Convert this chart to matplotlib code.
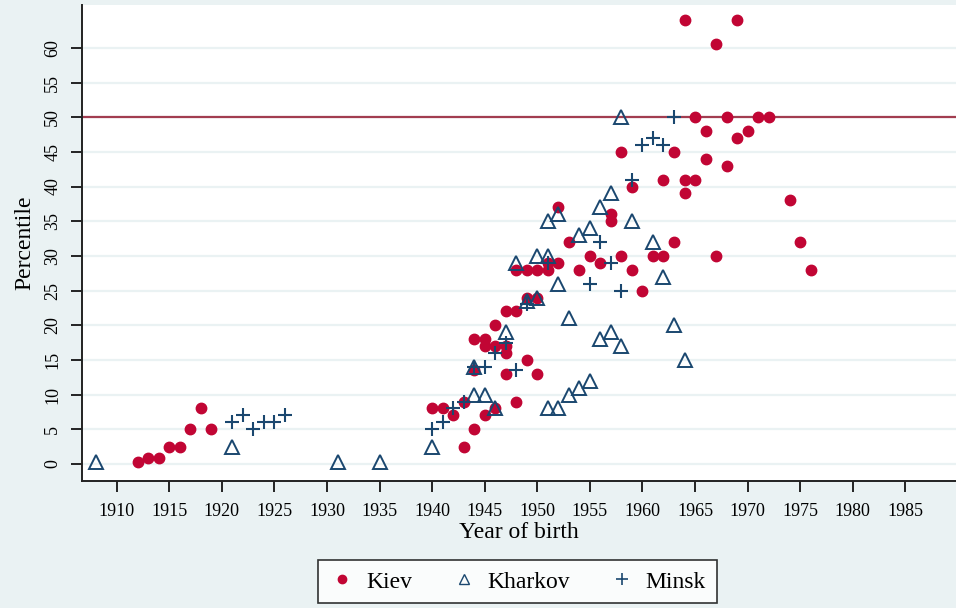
import matplotlib
matplotlib.use("Agg")
import matplotlib.pyplot as plt
from matplotlib.lines import Line2D

# data (year of birth, percentile)
kiev_year = [1912, 1913, 1914, 1915, 1916, 1917, 1918, 1919,
             1940, 1941, 1942, 1943, 1943, 1944, 1944, 1944, 1945, 1945, 1945,
             1946, 1946, 1946, 1947, 1947, 1947, 1947, 1948, 1948, 1948,
             1949, 1949, 1949, 1950, 1950, 1950, 1951, 1951, 1952, 1952,
             1953, 1954, 1955, 1956, 1957, 1957, 1958, 1958, 1959, 1959,
             1960, 1961, 1962, 1962, 1963, 1963, 1964, 1964, 1964, 1965, 1965,
             1966, 1966, 1967, 1967, 1968, 1968, 1969, 1969, 1970, 1971, 1972,
             1974, 1975, 1976]
kiev_pct = [0.3, 0.8, 0.8, 2.5, 2.5, 5, 8, 5,
            8, 8, 7, 2.5, 9, 5, 13.5, 18, 7, 17, 18,
            8, 17, 20, 13, 16, 17, 22, 9, 22, 28,
            15, 24, 28, 13, 24, 28, 28, 29, 29, 37,
            32, 28, 30, 29, 35, 36, 30, 45, 28, 40,
            25, 30, 30, 41, 32, 45, 39, 41, 64, 41, 50,
            44, 48, 30, 60.5, 43, 50, 47, 64, 48, 50, 50,
            38, 32, 28]

kharkov_year = [1908, 1921, 1931, 1935, 1940, 1944, 1944, 1945, 1946, 1947,
                1948, 1949, 1950, 1950, 1951, 1951, 1951, 1952, 1952, 1952,
                1953, 1953, 1954, 1954, 1955, 1955, 1956, 1956, 1957, 1957,
                1958, 1958, 1959, 1961, 1962, 1963, 1964]
kharkov_pct = [0.3, 2.4, 0.3, 0.3, 2.4, 10, 14, 10, 8, 19,
               29, 23.5, 24, 30, 8, 30, 35, 8, 26, 36,
               10, 21, 11, 33, 12, 34, 18, 37, 19, 39,
               17, 50, 35, 32, 27, 20, 15]

minsk_year = [1921, 1922, 1923, 1924, 1925, 1926,
              1940, 1941, 1942, 1943, 1944, 1945, 1946, 1947, 1948, 1949,
              1951, 1955, 1956, 1957, 1958, 1959, 1960, 1961, 1962, 1963]
minsk_pct = [6, 7, 5, 6, 6, 7,
             5, 6, 8, 9, 14, 14, 16, 17.5, 13.5, 23,
             29, 26, 32, 29, 25, 41, 46, 47, 46, 50]

x_ticks = list(range(1910, 1990, 5))
y_ticks = list(range(0, 65, 5))
ref_line = 50

# stata-like colours
bg = '#eaf2f3'
red = '#c10534'
navy = '#1a476f'

plt.rcParams['font.family'] = ['Liberation Serif', 'DejaVu Serif']

fig = plt.figure(figsize=(9.56, 6.08), dpi=100, facecolor=bg)
ax = fig.add_axes([0.0858, 0.209, 0.914, 0.783])
ax.set_facecolor('white')

# horizontal grid
for y in y_ticks:
    ax.axhline(y, color='#eaf2f3', lw=1.6, zorder=0)
ax.axhline(ref_line, color='#a23d50', lw=1.6, zorder=1)

ax.plot(kiev_year, kiev_pct, 'o', color=red, ms=7.5, mec=red, ls='none', zorder=3)
ax.plot(kharkov_year, kharkov_pct, '^', mfc='none', mec=navy, mew=1.4, ms=10.5, ls='none', zorder=4)
ax.plot(minsk_year, minsk_pct, '+', color=navy, mew=1.5, ms=9.5, ls='none', zorder=5)

ax.set_xlim(1906.7, 1989.8)
ax.set_ylim(-2.45, 66.2)
ax.set_xticks(x_ticks)
ax.set_yticks(y_ticks)
ax.tick_params(axis='x', labelsize=13, length=8, width=1.2, pad=8)
ax.tick_params(axis='y', labelsize=13, length=8, width=1.2, pad=7, labelrotation=90)
for lab in ax.get_yticklabels():
    lab.set_va('center')

for s in ['top', 'right']:
    ax.spines[s].set_visible(False)
for s in ['left', 'bottom']:
    ax.spines[s].set_color('#222222')
    ax.spines[s].set_linewidth(1.4)

ax.set_xlabel('Year of birth', fontsize=17, labelpad=1)
ax.set_ylabel('Percentile', fontsize=17, labelpad=6)

# legend at the bottom
handles = [
    Line2D([], [], marker='o', color=red, ls='none', ms=6),
    Line2D([], [], marker='^', mfc='none', mec=navy, mew=1, ls='none', ms=7),
    Line2D([], [], marker='+', color=navy, mew=1.2, ls='none', ms=8),
]
leg = fig.legend(handles, ['Kiev', 'Kharkov', 'Minsk'], loc='center',
                 bbox_to_anchor=(0.541, 0.043), ncol=3, fontsize=17,
                 frameon=True, fancybox=False, edgecolor='black',
                 handletextpad=0.4, columnspacing=1.6, borderpad=0.45,
                 handlelength=1.2)
leg.get_frame().set_linewidth(1.2)

fig.savefig('out.png', dpi=100, facecolor=bg)
